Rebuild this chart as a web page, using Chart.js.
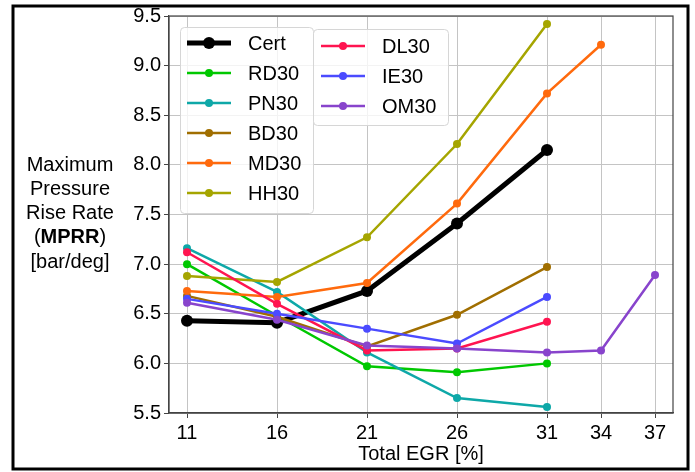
<!DOCTYPE html>
<html>
<head>
<meta charset="utf-8">
<script src="https://cdn.jsdelivr.net/npm/chart.js@4.4.0/dist/chart.umd.min.js"></script>
<style>
body { margin: 0; background: #fff; }
#wrap { position: relative; width: 695px; height: 472px; }
</style>
</head>
<body>
<div id="wrap"><canvas id="mprrChart"></canvas></div>
<script>
// total EGR steps [%]
var egr = [11, 16, 21, 26, 31, 34, 37];

// MPRR [bar/deg] per fuel
var cert = [6.43, 6.41, 6.73, 7.41, 8.15];
var rd30 = [7.00, 6.48, 5.97, 5.91, 6.00];
var pn30 = [7.16, 6.72, 6.11, 5.65, 5.56];
var bd30 = [6.68, 6.47, 6.17, 6.49, 6.97];
var md30 = [6.73, 6.67, 6.81, 7.61, 8.72, 9.21];
var hh30 = [6.88, 6.82, 7.27, 8.21, 9.42];
var dl30 = [7.12, 6.60, 6.13, 6.15, 6.42];
var ie30 = [6.65, 6.50, 6.35, 6.20, 6.67];
var om30 = [6.61, 6.44, 6.18, 6.15, 6.11, 6.13, 6.89];

var yTicks = [5.5, 6.0, 6.5, 7.0, 7.5, 8.0, 8.5, 9.0, 9.5];

var FONT = 'Liberation Sans';

function pts(vals) {
    return vals.map(function (v, i) { return { x: egr[i], y: v }; });
}

function series(label, vals, color, main) {
    return {
        label: label,
        data: pts(vals),
        borderColor: color,
        backgroundColor: color,
        pointBackgroundColor: color,
        pointBorderWidth: 0,
        borderWidth: main ? 5 : 2.5,
        pointRadius: main ? 6 : 4,
        pointHoverRadius: main ? 6 : 4,
        tension: 0
    };
}

var datasets = [
    series('Cert', cert, '#000000', true),
    series('RD30', rd30, '#00c800'),
    series('PN30', pn30, '#0ea8a8'),
    series('BD30', bd30, '#a06e00'),
    series('MD30', md30, '#ff6a0d'),
    series('HH30', hh30, '#a5a500'),
    series('DL30', dl30, '#ff1450'),
    series('IE30', ie30, '#4b4bff'),
    series('OM30', om30, '#8844cc')
];
// first series at the bottom, like plot order
datasets.forEach(function (d, i) { d.order = datasets.length - i; });

// two legend boxes: first six entries, then the remaining three
var legendBoxes = [
    { x: 180, y: 27, w: 133, h: 186, rows: [43, 73, 103, 133, 163, 193], lx: 187, tx: 248, from: 0 },
    { x: 313, y: 29, w: 135, h: 96, rows: [46, 76, 106], lx: 321, tx: 382, from: 6 }
];

var extras = {
    id: 'extras',
    afterDraw: function (chart) {
        var ctx = chart.ctx;
        var a = chart.chartArea;
        ctx.save();

        // top / right spines
        ctx.strokeStyle = '#444';
        ctx.lineWidth = 1.2;
        ctx.strokeRect(a.left, a.top, a.right - a.left, a.bottom - a.top);

        // legends
        legendBoxes.forEach(function (b) {
            ctx.beginPath();
            ctx.roundRect(b.x + 0.5, b.y + 0.5, b.w, b.h, 4);
            ctx.fillStyle = 'rgba(255,255,255,0.8)';
            ctx.fill();
            ctx.strokeStyle = '#d6d6d6';
            ctx.lineWidth = 1;
            ctx.stroke();
            b.rows.forEach(function (ry, k) {
                var d = chart.data.datasets[b.from + k];
                ctx.strokeStyle = d.borderColor;
                ctx.lineWidth = d.borderWidth;
                ctx.beginPath();
                ctx.moveTo(b.lx, ry);
                ctx.lineTo(b.lx + 44, ry);
                ctx.stroke();
                ctx.fillStyle = d.borderColor;
                ctx.beginPath();
                ctx.arc(b.lx + 22, ry, d.pointRadius, 0, Math.PI * 2);
                ctx.fill();
                ctx.fillStyle = '#000';
                ctx.font = '20px "' + FONT + '"';
                ctx.textBaseline = 'middle';
                ctx.textAlign = 'left';
                ctx.fillText(d.label, b.tx, ry + 1);
            });
        });

        // y axis title, horizontal, with bold abbreviation
        var cx = 70;
        ctx.fillStyle = '#000';
        ctx.textBaseline = 'middle';
        ctx.textAlign = 'center';
        ctx.font = '20px "' + FONT + '"';
        ctx.fillText('Maximum', cx, 165);
        ctx.fillText('Pressure', cx, 189);
        ctx.fillText('Rise Rate', cx, 213);
        ctx.fillText('[bar/deg]', cx, 262);
        var reg = '20px "' + FONT + '"';
        var bold = 'bold 20px "' + FONT + '"';
        ctx.font = reg;
        var wp = ctx.measureText('(').width, wc = ctx.measureText(')').width;
        ctx.font = bold;
        var wb = ctx.measureText('MPRR').width;
        var x0 = cx - (wp + wb + wc) / 2;
        ctx.textAlign = 'left';
        ctx.font = reg;
        ctx.fillText('(', x0, 237);
        ctx.font = bold;
        ctx.fillText('MPRR', x0 + wp, 237);
        ctx.font = reg;
        ctx.fillText(')', x0 + wp + wb, 237);

        // figure frame
        ctx.strokeStyle = '#000';
        ctx.lineWidth = 3;
        ctx.strokeRect(13, 6, 675, 463);
        ctx.restore();
    }
};

new Chart(document.getElementById('mprrChart'), {
    type: 'line',
    data: { datasets: datasets },
    options: {
        responsive: true,
        maintainAspectRatio: false,
        animation: false,
        layout: { padding: { left: 0, top: 16, right: 22, bottom: 0 } },
        plugins: {
            legend: { display: false },
            tooltip: { enabled: false }
        },
        scales: {
            x: {
                type: 'linear',
                min: 10,
                max: 38,
                afterBuildTicks: function (scale) {
                    scale.ticks = egr.map(function (v) { return { value: v }; });
                },
                afterFit: function (scale) { scale.height = 59; },
                ticks: {
                    color: '#000',
                    font: { family: FONT, size: 20 },
                    padding: 3,
                    maxRotation: 0,
                    autoSkip: false
                },
                grid: { color: '#c4c4c4', lineWidth: 1, tickLength: 5, tickColor: '#444' },
                border: { display: true, color: '#444', width: 1.2 },
                title: {
                    display: true,
                    text: 'Total EGR [%]',
                    color: '#000',
                    font: { family: FONT, size: 20 },
                    padding: { top: 0, bottom: 6 }
                }
            },
            y: {
                min: 5.5,
                max: 9.5,
                afterBuildTicks: function (scale) {
                    scale.ticks = yTicks.map(function (v) { return { value: v }; });
                },
                afterFit: function (scale) { scale.width = 169; },
                ticks: {
                    color: '#000',
                    font: { family: FONT, size: 20 },
                    padding: 3,
                    callback: function (v) { return v.toFixed(1); }
                },
                grid: { color: '#c4c4c4', lineWidth: 1, tickLength: 5, tickColor: '#444' },
                border: { display: true, color: '#444', width: 1.2 }
            }
        }
    },
    plugins: [extras]
});
</script>
</body>
</html>
